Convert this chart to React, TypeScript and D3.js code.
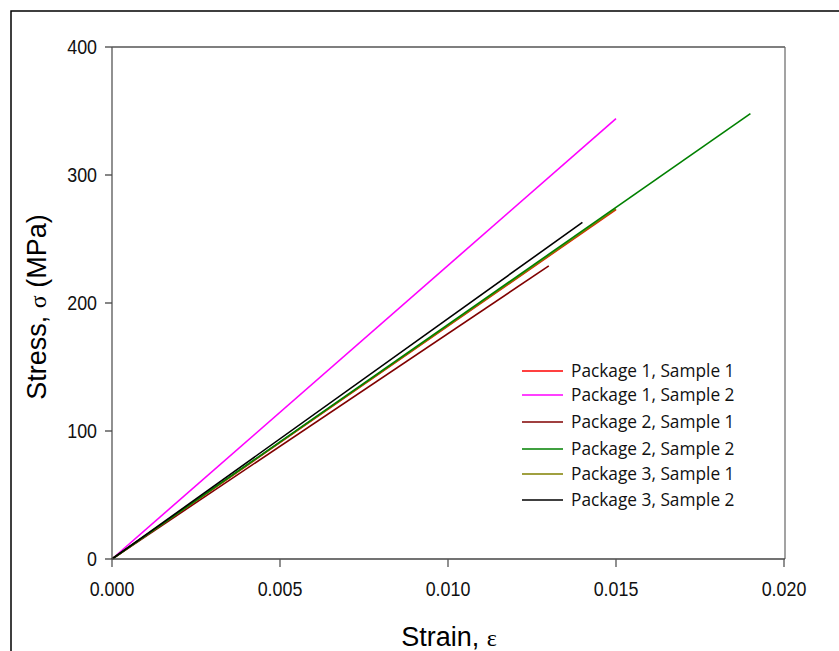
import React from "react";
import * as d3 from "d3";

const seriesNames = [
  "Package 1, Sample 1",
  "Package 1, Sample 2",
  "Package 2, Sample 1",
  "Package 2, Sample 2",
  "Package 3, Sample 1",
  "Package 3, Sample 2",
];
const seriesColors = ["#ff0000", "#ff00ff", "#800000", "#008000", "#808000", "#000000"];
// strain values and stress values (MPa) per series
const p1s1Strain = [0, 0.015];
const p1s1Stress = [0, 273];
const p1s2Strain = [0, 0.015];
const p1s2Stress = [0, 344];
const p2s1Strain = [0, 0.013];
const p2s1Stress = [0, 229];
const p2s2Strain = [0, 0.019];
const p2s2Stress = [0, 348];
const p3s1Strain = [0, 0.015];
const p3s1Stress = [0, 273.5];
const p3s2Strain = [0, 0.014];
const p3s2Stress = [0, 263];

const xTicks = [0, 0.005, 0.01, 0.015, 0.02];
const yTicks = [0, 100, 200, 300, 400];

const strains = [p1s1Strain, p1s2Strain, p2s1Strain, p2s2Strain, p3s1Strain, p3s2Strain];
const stresses = [p1s1Stress, p1s2Stress, p2s1Stress, p2s2Stress, p3s1Stress, p3s2Stress];
const drawOrder = [0, 1, 2, 4, 3, 5];
const legendY = [371, 395, 422, 449, 474, 500];

export default function App() {
  const left = 112, right = 785, top = 47, bottom = 559;
  const x = d3.scaleLinear().domain([0, 0.02]).range([left, right - 1]);
  const y = d3.scaleLinear().domain([0, 400]).range([bottom, top]);
  const line = d3
    .line<[number, number]>()
    .x((d) => x(d[0]))
    .y((d) => y(d[1]));
  const tickFont = "'Liberation Sans', Arial, sans-serif";
  return (
    <svg
      width={839}
      height={651}
      style={{ position: "absolute", left: 0, top: 0, background: "#fff" }}
    >
      <rect x={11} y={11} width={900} height={700} fill="#fff" stroke="#000" strokeWidth={1.5} />
      {/* plot frame */}
      <line x1={left} x2={right} y1={top} y2={top} stroke="#000" strokeWidth={1.2} />
      <line x1={right} x2={right} y1={top} y2={bottom} stroke="#666" strokeWidth={1.2} />
      {/* series */}
      {drawOrder.map((i) => (
        <path
          key={i}
          d={line(strains[i].map((s, j) => [s, stresses[i][j]] as [number, number])) || ""}
          fill="none"
          stroke={seriesColors[i]}
          strokeWidth={1.6}
        />
      ))}
      {/* axes */}
      <line x1={left} x2={right} y1={bottom} y2={bottom} stroke="#444" strokeWidth={1.3} />
      <line x1={left} x2={left} y1={top} y2={bottom} stroke="#555" strokeWidth={1.3} />
      {xTicks.map((t) => (
        <g key={"x" + t}>
          <line x1={x(t)} x2={x(t)} y1={bottom} y2={bottom + 8} stroke="#555" strokeWidth={1.3} />
          <text
            transform={`translate(${x(t)},596) scale(0.94,1.08)`}
            textAnchor="middle"
            fontFamily={tickFont}
            fontSize={19}
            fill="#111"
          >
            {d3.format(".3f")(t)}
          </text>
        </g>
      ))}
      {yTicks.map((t) => (
        <g key={"y" + t}>
          <line x1={left - 7} x2={left} y1={y(t)} y2={y(t)} stroke="#444" strokeWidth={1.3} />
          <text
            transform={`translate(97,${y(t) + 7}) scale(0.94,1.08)`}
            textAnchor="end"
            fontFamily={tickFont}
            fontSize={19}
            fill="#111"
          >
            {t}
          </text>
        </g>
      ))}
      {/* axis titles */}
      <text x={449} y={646} textAnchor="middle" fontFamily={tickFont} fontSize={27} fill="#000">
        Strain,{" "}
        <tspan fontFamily="'Liberation Serif', 'Times New Roman', serif" fontSize={24}>
          ε
        </tspan>
      </text>
      <text
        transform="translate(46,307) rotate(-90)"
        textAnchor="middle"
        fontFamily={tickFont}
        fontSize={27}
        fill="#000"
      >
        Stress,{" "}
        <tspan fontFamily="'Liberation Serif', 'Times New Roman', serif" fontSize={24}>
          σ
        </tspan>{" "}
        (MPa)
      </text>
      {/* legend */}
      {seriesNames.map((name, i) => (
        <g key={name}>
          <line
            x1={522}
            x2={563}
            y1={legendY[i]}
            y2={legendY[i]}
            stroke={seriesColors[i]}
            strokeWidth={1.6}
          />
          <text
            x={571}
            y={legendY[i] + 6}
            fontFamily="'Open Sans', 'Noto Sans', sans-serif"
            fontSize={17.3}
            fill="#111"
          >
            {name}
          </text>
        </g>
      ))}
    </svg>
  );
}
